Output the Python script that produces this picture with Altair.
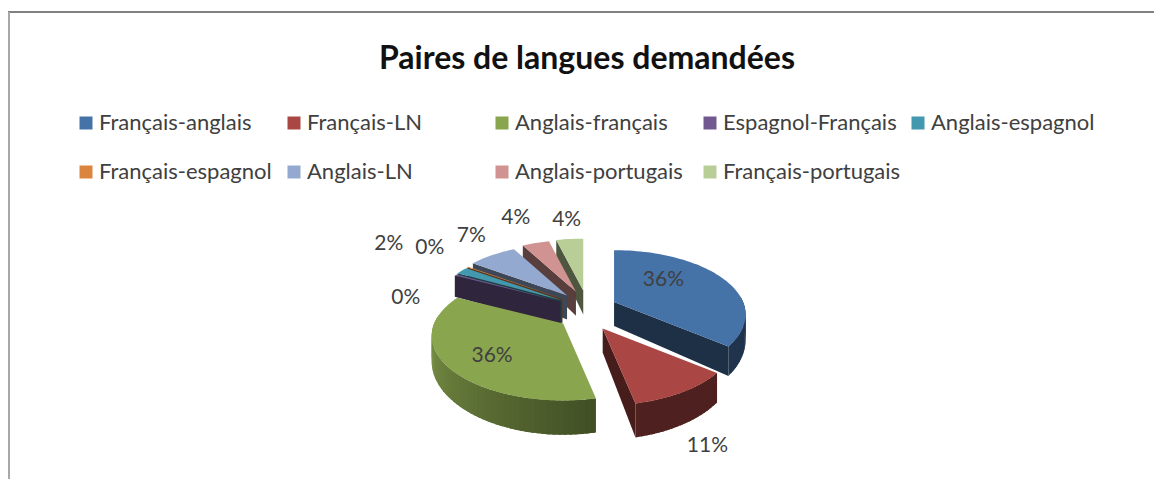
import math
import altair as alt
import pandas as pd

# ---- data ----
slices = ["Français-anglais", "Français-LN", "Anglais-français", "Espagnol-Français",
          "Anglais-espagnol", "Français-espagnol", "Anglais-LN", "Anglais-portugais",
          "Français-portugais"]
values = [35.8, 10.9, 35.8, 0.4, 1.8, 0.2, 7.1, 4.0, 4.0]

# ---- styles and layout ----
colors = ["#4572a7", "#aa4643", "#89a54e", "#71588f", "#4198af", "#db843d", "#93a9cf", "#d19392", "#b9cd96"]
paint_order = [8, 7, 6, 5, 4, 3, 0, 2, 1]
label_shift = [(-58, 3), (24, 54), (45, -10), (-50, 23), (-73, -27), (-38, -19), (-21, -19), (-20, -25), (-3, -19)]
CX, CY = 587, 311       # pie centre before the slices are pulled apart
EX, EY = 30, 20.6       # how far the slices are pulled apart
RX, RY, K = 129, 62, 0.194   # tilted pie: radii and perspective
DEPTH, DK = 24, 0.3     # wall height
FONT = "Lato"
TEXT = "#404040"


def proj(deg):
    t = math.radians(deg)
    u, v = math.sin(t), -math.cos(t)
    den = 1 - K * v
    return RX * u / den, RY * v / den, DEPTH / (1 - DK * v)


def hexmix(c, f):
    r, g, b = (int(c[i:i + 2], 16) for i in (1, 3, 5))
    return "#%02x%02x%02x" % (round(r * f), round(g * f), round(b * f))


def wall_shade(deg):
    lo, hi = 165, 280
    s = max(0.0, min(1.0, (deg - lo) / (hi - lo)))
    return 0.46 + s * 0.5


total = sum(values)
starts, cum = [], 0.0
for val in values:
    starts.append(cum / total * 360)
    cum += val

rows, labels, pid = [], [], 0


def add_poly(pts, key):
    global pid
    pid += 1
    for i, (x, y) in enumerate(pts + pts[:1]):
        rows.append({"x": x, "y": y, "poly": pid, "i": i, "key": key})


wall_keys = []
for idx in paint_order:
    a0 = starts[idx]
    a1 = a0 + values[idx] / total * 360
    mid = (a0 + a1) / 2
    t = math.radians(mid)
    ax = CX + EX * math.sin(t)
    ay = CY - EY * math.cos(t)
    col = colors[idx]

    def corner(deg):
        x, y, d = proj(deg)
        return ax + x, ay + y, d

    apex_d = DEPTH
    # radial walls that face the viewer
    for edge, visible in ((a0, math.sin(math.radians(a0)) < -1e-6), (a1, math.sin(math.radians(a1)) > 1e-6)):
        if visible:
            x, y, d = corner(edge)
            key = hexmix(col, 0.42)
            wall_keys.append(key)
            add_poly([(ax, ay), (x, y), (x, y + d), (ax, ay + apex_d)], key)
    # curved wall: strips overlap so that no seams show
    w0, w1 = max(a0, 85), min(a1, 278)
    deg = w1
    while deg > w0:
        nxt = max(deg - 2, w0)
        far = max(nxt - 1.5, w0)
        x1, y1, d1 = corner(far)
        x2, y2, d2 = corner(deg)
        key = hexmix(col, wall_shade((deg + nxt) / 2))
        wall_keys.append(key)
        add_poly([(x1, y1), (x2, y2), (x2, y2 + d2), (x1, y1 + d1)], key)
        deg = nxt
    # top face
    n = max(2, int((a1 - a0) / 2) + 1)
    arc = [corner(a0 + (a1 - a0) * j / (n - 1))[:2] for j in range(n)]
    add_poly([(ax, ay)] + arc, slices[idx])
    ex, ey, _ = corner(mid)
    labels.append({"x": ex + label_shift[idx][0], "y": ey + label_shift[idx][1],
                   "t": f"{values[idx] / total:.0%}"})

df = pd.DataFrame(rows)
wall_keys = sorted(set(wall_keys))
domain = slices + wall_keys
rng = colors + wall_keys

x_enc = alt.X("x:Q", axis=None, scale=alt.Scale(domain=[8, 1154], nice=False, zero=False))
y_enc = alt.Y("y:Q", axis=None, scale=alt.Scale(domain=[479, 8], nice=False, zero=False))
fill_scale = alt.Scale(domain=domain, range=rng)

pie = alt.Chart(df).mark_line(strokeWidth=0, interpolate="linear").encode(
    x=x_enc, y=y_enc,
    order="i:Q",
    detail="poly:N",
    fill=alt.Fill("key:N", scale=fill_scale, legend=alt.Legend(
        values=slices, title=None, orient="none", legendX=67, legendY=104, direction="horizontal",
        columns=5, gridAlign="all", columnPadding=6, rowPadding=27, padding=0,
        symbolType="square", symbolSize=169, symbolStrokeWidth=0, symbolOpacity=1,
        labelFont=FONT, labelFontSize=22, labelColor=TEXT, labelOffset=2,
        labelLimit=300)),
)

text = alt.Chart(pd.DataFrame(labels)).mark_text(font=FONT, fontSize=21, color=TEXT).encode(
    x=x_enc, y=y_enc, text="t:N")

top_line = alt.Chart().mark_rule(color="#808080", strokeWidth=2).encode(
    x=alt.value(0), x2=alt.value(1146), y=alt.value(4))
left_line = alt.Chart().mark_rule(color="#a8a8a8", strokeWidth=2).encode(
    x=alt.value(1), y=alt.value(4), y2=alt.value(471))

chart = alt.layer(top_line, left_line, pie, text).properties(
    width=1146, height=471, padding=0,
    autosize=alt.AutoSizeParams(type="none"),
    title=alt.TitleParams("Paires de langues demandées", font=FONT, fontSize=32, fontWeight="bold",
                          color="#111111", anchor="start", offset=-68, dx=372),
).configure_view(stroke=None)

chart.save("out.html", embed_options={"renderer": "svg", "actions": False})
